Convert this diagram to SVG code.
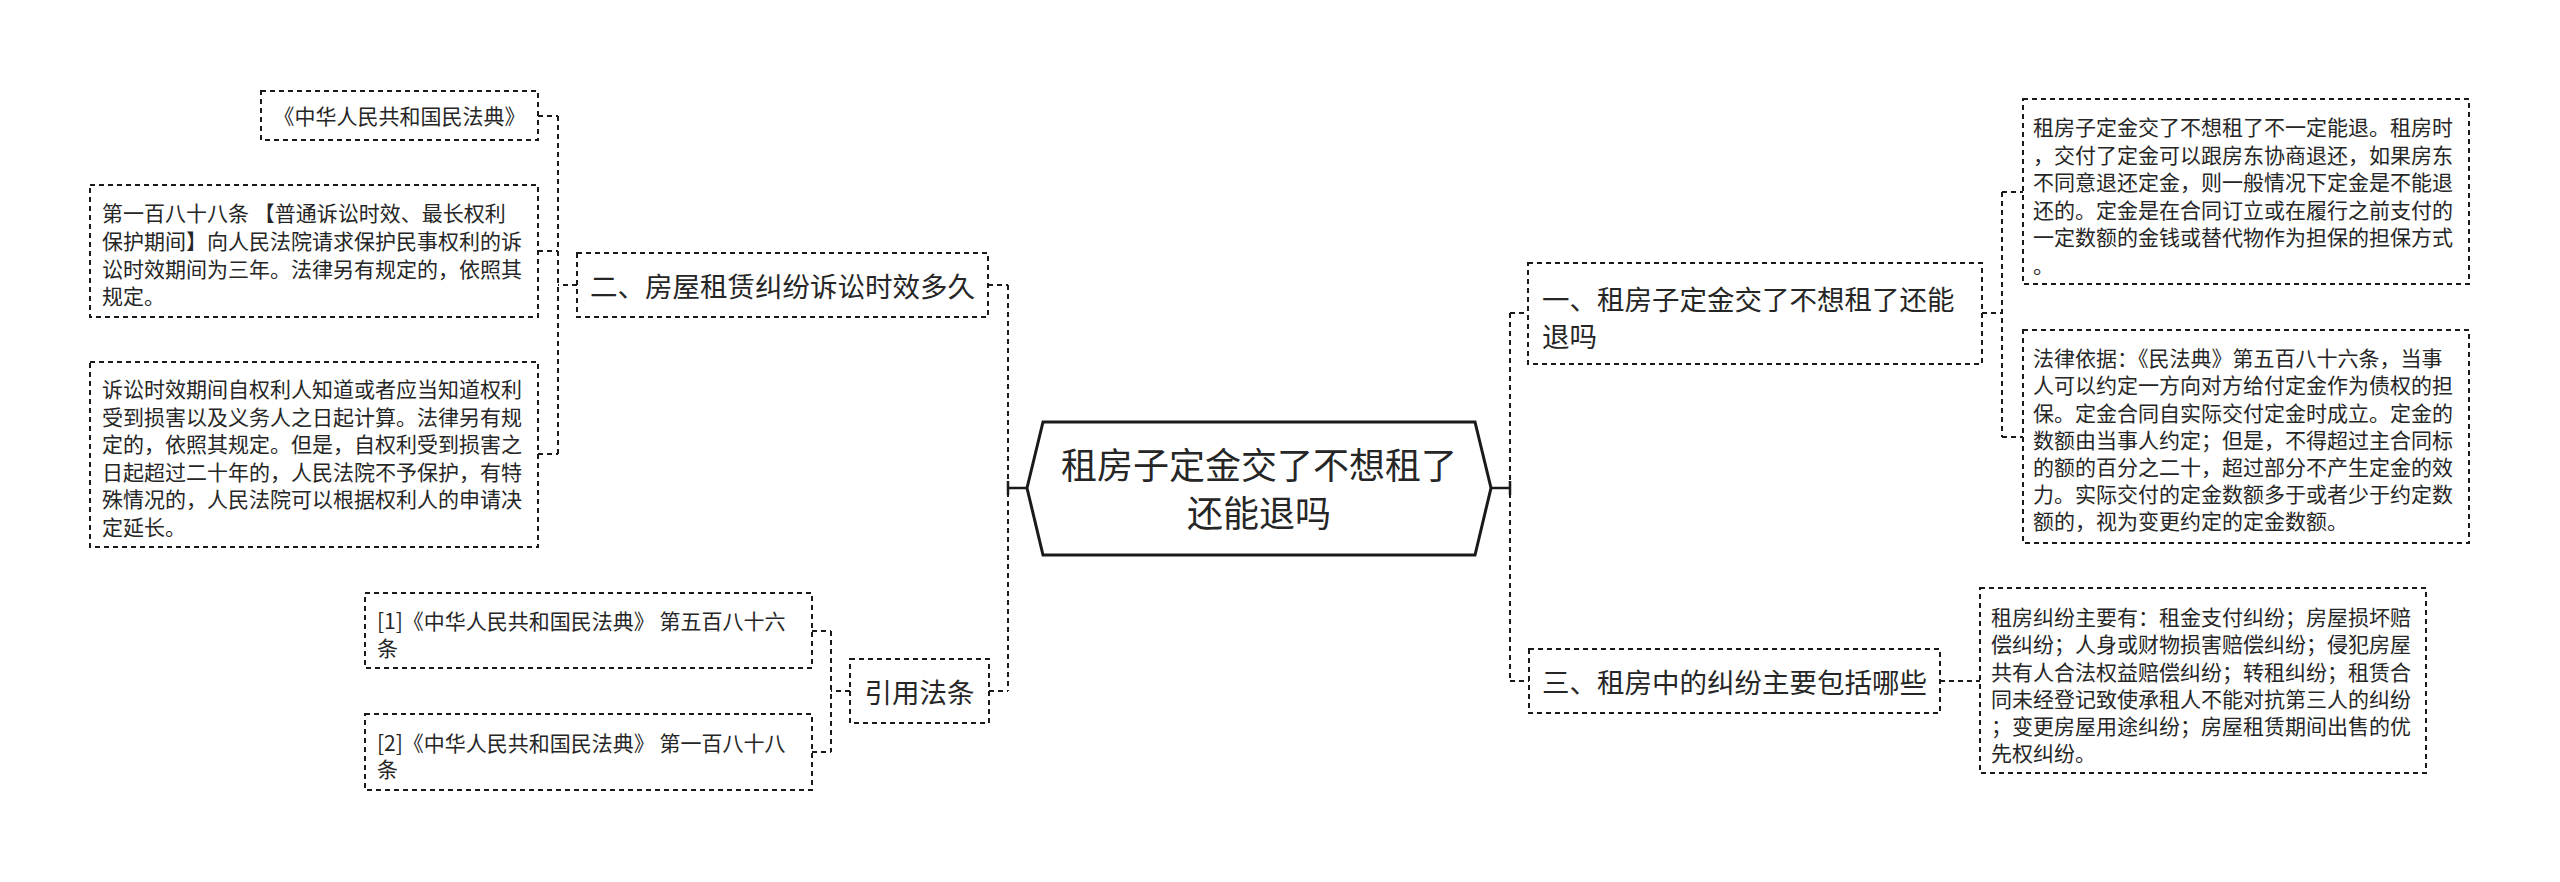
<svg xmlns="http://www.w3.org/2000/svg" width="2560" height="882" viewBox="0 0 2560 882">
<style>
.bx{fill:#fff;stroke:#1a1a1a;stroke-width:2;stroke-dasharray:5 4}
.cn{fill:none;stroke:#1a1a1a;stroke-width:2;stroke-dasharray:5 4}
.sl{fill:none;stroke:#1a1a1a;stroke-width:2.5}
text{font-family:"Noto Sans CJK SC","Liberation Sans",sans-serif;fill:#262626;dominant-baseline:central}
.s{font-size:21px}
.m{font-size:27.5px}
.t{font-size:36px}
.c{text-anchor:middle}
</style>
<rect width="2560" height="882" fill="#fff"/>
<g id="connectors">
<path class="sl" d="M1008,488 H1027 M1008,481 V495"/>
<path class="sl" d="M1491,488 H1510 M1510,481 V495"/>
<path class="cn" d="M1008,285 V691 M988,285 H1008 M989,691 H1008"/>
<path class="cn" d="M577,285 H558 M558,116 V454 M538,116 H558 M538,251 H558 M538,454 H558"/>
<path class="cn" d="M850,691 H831 M831,631 V752 M812,631 H831 M812,752 H831"/>
<path class="cn" d="M1510,313 V681 M1510,313 H1528 M1510,681 H1529"/>
<path class="cn" d="M1982,313 H2002 M2002,192 V437 M2002,192 H2023 M2002,437 H2023"/>
<path class="cn" d="M1940,681 H1980"/>
</g>
<g id="root">
<polygon points="1027,488 1043,422 1475,422 1491,488 1475,555 1043,555" fill="#fff" stroke="#1a1a1a" stroke-width="3"/>
<text class="t c" x="1259" y="463">租房子定金交了不想租了</text>
<text class="t c" x="1259" y="511">还能退吗</text>
</g>
<g id="n-er">
<rect class="bx" x="577" y="253" width="411" height="64"/>
<text class="m c" x="782.5" y="285">二、房屋租赁纠纷诉讼时效多久</text>
</g>
<g id="n-a">
<rect class="bx" x="261" y="91" width="277" height="49"/>
<text class="s c" x="399.5" y="115">《中华人民共和国民法典》</text>
</g>
<g id="n-b">
<rect class="bx" x="90" y="185" width="448" height="132"/>
<text class="s" x="102" y="212">第一百八十八条 【普通诉讼时效、最长权利</text>
<text class="s" x="102" y="240">保护期间】向人民法院请求保护民事权利的诉</text>
<text class="s" x="102" y="268">讼时效期间为三年。法律另有规定的，依照其</text>
<text class="s" x="102" y="295">规定。</text>
</g>
<g id="n-c">
<rect class="bx" x="90" y="362" width="448" height="185"/>
<text class="s" x="102" y="388">诉讼时效期间自权利人知道或者应当知道权利</text>
<text class="s" x="102" y="415.5">受到损害以及义务人之日起计算。法律另有规</text>
<text class="s" x="102" y="443">定的，依照其规定。但是，自权利受到损害之</text>
<text class="s" x="102" y="470.5">日起超过二十年的，人民法院不予保护，有特</text>
<text class="s" x="102" y="498">殊情况的，人民法院可以根据权利人的申请决</text>
<text class="s" x="102" y="525.5">定延长。</text>
</g>
<g id="n-yinyong">
<rect class="bx" x="850" y="659" width="139" height="64"/>
<text class="m c" x="919.5" y="691">引用法条</text>
</g>
<g id="n-ref1">
<rect class="bx" x="365" y="593" width="447" height="75"/>
<text class="s" x="377" y="620">[1]《中华人民共和国民法典》 第五百八十六</text>
<text class="s" x="377" y="647">条</text>
</g>
<g id="n-ref2">
<rect class="bx" x="365" y="714" width="447" height="76"/>
<text class="s" x="377" y="742">[2]《中华人民共和国民法典》 第一百八十八</text>
<text class="s" x="377" y="768">条</text>
</g>
<g id="n-yi">
<rect class="bx" x="1528" y="263" width="454" height="101"/>
<text class="m" x="1542" y="298">一、租房子定金交了不想租了还能</text>
<text class="m" x="1542" y="335">退吗</text>
</g>
<g id="n-r1">
<rect class="bx" x="2023" y="99" width="446" height="185"/>
<text class="s" x="2033" y="126">租房子定金交了不想租了不一定能退。租房时</text>
<text class="s" x="2033" y="153.5">，交付了定金可以跟房东协商退还，如果房东</text>
<text class="s" x="2033" y="181">不同意退还定金，则一般情况下定金是不能退</text>
<text class="s" x="2033" y="208.5">还的。定金是在合同订立或在履行之前支付的</text>
<text class="s" x="2033" y="236">一定数额的金钱或替代物作为担保的担保方式</text>
<text class="s" x="2033" y="263.5">。</text>
</g>
<g id="n-r2">
<rect class="bx" x="2023" y="330" width="446" height="213"/>
<text class="s" x="2033" y="357">法律依据：《民法典》第五百八十六条，当事</text>
<text class="s" x="2033" y="384">人可以约定一方向对方给付定金作为债权的担</text>
<text class="s" x="2033" y="411.5">保。定金合同自实际交付定金时成立。定金的</text>
<text class="s" x="2033" y="438.5">数额由当事人约定；但是，不得超过主合同标</text>
<text class="s" x="2033" y="465.5">的额的百分之二十，超过部分不产生定金的效</text>
<text class="s" x="2033" y="493">力。实际交付的定金数额多于或者少于约定数</text>
<text class="s" x="2033" y="520">额的，视为变更约定的定金数额。</text>
</g>
<g id="n-san">
<rect class="bx" x="1529" y="649" width="411" height="64"/>
<text class="m c" x="1734.5" y="681">三、租房中的纠纷主要包括哪些</text>
</g>
<g id="n-r3">
<rect class="bx" x="1980" y="588" width="446" height="185"/>
<text class="s" x="1991" y="616">租房纠纷主要有：租金支付纠纷；房屋损坏赔</text>
<text class="s" x="1991" y="643">偿纠纷；人身或财物损害赔偿纠纷；侵犯房屋</text>
<text class="s" x="1991" y="670.5">共有人合法权益赔偿纠纷；转租纠纷；租赁合</text>
<text class="s" x="1991" y="697.5">同未经登记致使承租人不能对抗第三人的纠纷</text>
<text class="s" x="1991" y="725">；变更房屋用途纠纷；房屋租赁期间出售的优</text>
<text class="s" x="1991" y="752">先权纠纷。</text>
</g>
</svg>
